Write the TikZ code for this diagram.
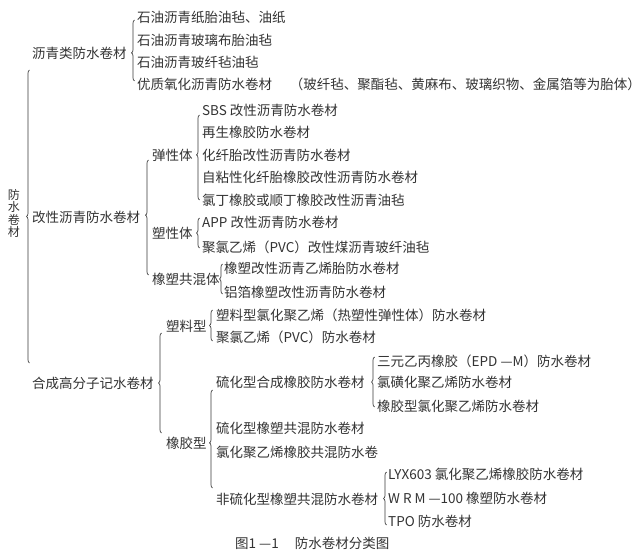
\documentclass[tikz,border=0pt]{standalone}
\usepackage{fontspec}
\newfontfamily\cjk{Noto Sans CJK SC}
\usetikzlibrary{decorations.pathreplacing}
\definecolor{txt}{HTML}{333333}
\definecolor{lnc}{HTML}{3A3A3A}
\tikzset{
  lbl/.style={anchor=west, inner sep=0pt, font=\cjk\fontsize{13.5}{16}\selectfont, text=txt},
  brc/.style={decorate, decoration={brace, amplitude=3pt, aspect=0.5}, line width=0.7pt, draw=lnc},
}
\begin{document}
\begin{tikzpicture}[x=1pt,y=-1pt]
\fill[white] (0,0) rectangle (640,556);
\useasboundingbox (0,0) rectangle (640,556);

% root
\node[inner sep=0pt, align=center, text=txt, font=\cjk\fontsize{12}{12.3}\selectfont] (root) at (14,213.5) {防\\水\\卷\\材};
\coordinate (b0t) at (29.5,70); \coordinate (b0b) at (29.5,363);
\draw[brc] (b0b) -- (b0t);

% level 1
\node[lbl] (a) at (32,53) {沥青类防水卷材};
\node[lbl] (b) at (32,217) {改性沥青防水卷材};
\node[lbl] (c) at (32,383) {合成高分子记水卷材};

% group a
\coordinate (bat) at (134.5,20); \coordinate (bab) at (134.5,81);
\draw[brc, decoration={aspect=0.46}] (bab) -- (bat);
\node[lbl] (a1) at (137,17) {石油沥青纸胎油毡、油纸};
\node[lbl] (a2) at (137,40) {石油沥青玻璃布胎油毡};
\node[lbl] (a3) at (137,62) {石油沥青玻纤毡油毡};
\node[lbl] (a4) at (137,84) {优质氧化沥青防水卷材\hspace{1.3em}（玻纤毡、聚酯毡、黄麻布、玻璃织物、金属箔等为胎体）};

% group b
\coordinate (bbt) at (148.5,160); \coordinate (bbb) at (148.5,275);
\draw[brc, decoration={aspect=0.52}] (bbb) -- (bbt);
\node[lbl] (b1) at (152,155) {弹性体};
\node[lbl] (b2) at (152,233) {塑性体};
\node[lbl] (b3) at (152,279) {橡塑共混体};

\coordinate (b1t) at (199.5,115); \coordinate (b1b) at (199.5,200);
\draw[brc, decoration={aspect=0.53}] (b1b) -- (b1t);
\node[lbl] (b11) at (202,110) {SBS 改性沥青防水卷材};
\node[lbl] (b12) at (202,132) {再生橡胶防水卷材};
\node[lbl] (b13) at (202,155) {化纤胎改性沥青防水卷材};
\node[lbl] (b14) at (202,177) {自粘性化纤胎橡胶改性沥青防水卷材};
\node[lbl] (b15) at (202,200) {氯丁橡胶或顺丁橡胶改性沥青油毡};

\coordinate (b2t) at (199.5,218); \coordinate (b2b) at (199.5,248);
\draw[brc] (b2b) -- (b2t);
\node[lbl] (b21) at (202,222) {APP 改性沥青防水卷材};
\node[lbl] (b22) at (202,247) {聚氯乙烯（PVC）改性煤沥青玻纤油毡};

\coordinate (b3t) at (222.5,264); \coordinate (b3b) at (222.5,294);
\draw[brc] (b3b) -- (b3t);
\node[lbl] (b31) at (224,268) {橡塑改性沥青乙烯胎防水卷材};
\node[lbl] (b32) at (224,292) {铝箔橡塑改性沥青防水卷材};

% group c
\coordinate (bct) at (161.5,333); \coordinate (bcb) at (161.5,433);
\draw[brc] (bcb) -- (bct);
\node[lbl] (c1) at (166,326) {塑料型};
\node[lbl] (c2) at (166,443) {橡胶型};

\coordinate (c1t) at (212.5,310); \coordinate (c1b) at (212.5,341);
\draw[brc] (c1b) -- (c1t);
\node[lbl] (c11) at (216,315) {塑料型氯化聚乙烯（热塑性弹性体）防水卷材};
\node[lbl] (c12) at (216,337) {聚氯乙烯（PVC）防水卷材};

\coordinate (c2t) at (212.5,390); \coordinate (c2b) at (212.5,488);
\draw[brc, decoration={aspect=0.46}] (c2b) -- (c2t);
\node[lbl] (c21) at (216,382) {硫化型合成橡胶防水卷材};
\node[lbl] (c22) at (216,428) {硫化型橡塑共混防水卷材};
\node[lbl] (c23) at (216,452) {氯化聚乙烯橡胶共混防水卷};
\node[lbl] (c24) at (216,499) {非硫化型橡塑共混防水卷材};

\coordinate (c21t) at (374.5,357); \coordinate (c21b) at (374.5,407);
\draw[brc] (c21b) -- (c21t);
\node[lbl] (c211) at (377,361) {三元乙丙橡胶（EPD —M）防水卷材};
\node[lbl] (c212) at (377,382) {氯磺化聚乙烯防水卷材};
\node[lbl] (c213) at (377,406) {橡胶型氯化聚乙烯防水卷材};

\coordinate (c24t) at (386.5,472); \coordinate (c24b) at (386.5,525);
\draw[brc] (c24b) -- (c24t);
\node[lbl] (c241) at (388,474) {LYX603 氯化聚乙烯橡胶防水卷材};
\node[lbl] (c242) at (388,498) {W R M —100 橡塑防水卷材};
\node[lbl] (c243) at (388,521) {TPO 防水卷材};

% caption
\node[lbl] (cap) at (235,543) {图1 —1\hspace{1.2em}防水卷材分类图};
\end{tikzpicture}
\end{document}
